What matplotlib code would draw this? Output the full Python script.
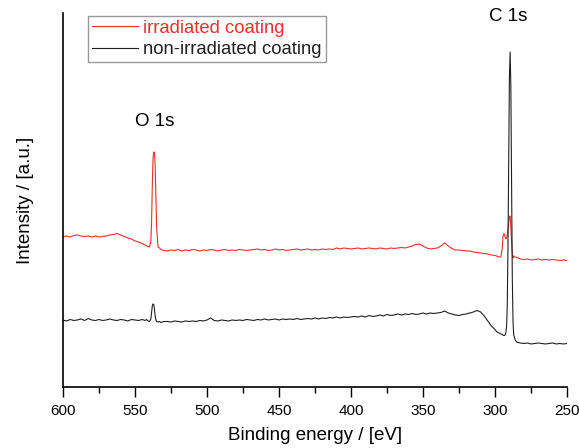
import numpy as np
import matplotlib
matplotlib.use("Agg")
import matplotlib.pyplot as plt

plt.rcParams['font.family'] = ['Liberation Sans', 'DejaVu Sans']

# -----------------------------
# Data, binding energy in eV, intensity in a.u.
# -----------------------------
energy_a = [600, 597.5, 595, 592.5, 590, 587.5, 585, 582.5, 580, 577.5,
            575, 572.5, 570, 567.5, 565, 562.5, 560, 557.5, 555, 552.5,
            550, 547.5, 545]
energy_b = [544, 543, 542, 541, 540, 539, 538.5, 538, 537.5, 537,
            536.5, 536, 535.5, 535, 534, 533, 532, 531, 530]
energy_c = [527.5, 525, 522.5, 520, 517.5, 515, 512.5, 510, 507.5, 505,
            502.5, 500, 497.5, 495, 492.5, 490, 487.5, 485, 482.5, 480,
            477.5, 475, 472.5, 470, 467.5, 465, 462.5, 460, 457.5, 455,
            452.5, 450, 447.5, 445, 442.5, 440, 437.5, 435, 432.5, 430,
            427.5, 425, 422.5, 420, 417.5, 415, 412.5, 410, 407.5, 405,
            402.5, 400, 397.5, 395, 392.5, 390, 387.5, 385, 382.5, 380,
            377.5, 375, 372.5, 370, 367.5, 365, 362.5, 360, 357.5, 355,
            352.5, 350, 347.5, 345, 342.5, 340, 337.5, 335, 332.5, 330,
            327.5, 325, 322.5, 320, 317.5, 315, 312.5, 310, 307.5, 305,
            302.5, 300]
energy_d = [299, 298, 297, 296, 295, 294.5, 294, 293.5, 293, 292.5,
            292, 291.5, 291, 290.5, 290, 289.5, 289, 288.5, 288, 287.5,
            287, 286, 285, 284]
energy_e = [282.5, 280, 277.5, 275, 272.5, 270, 267.5, 265, 262.5, 260,
            257.5, 255, 252.5, 250]

irr_a = [150, 151, 150, 151.5, 152, 151, 150.5, 151, 150, 151,
         150, 150.5, 151, 152, 152.5, 153.5, 152, 150.5, 149, 148,
         146, 145, 143.5]
irr_b = [142.5, 142, 141, 140.5, 140, 145, 165, 200, 228, 235,
         234, 222, 190, 160, 140, 139, 137.5, 137, 136.5]
irr_c = [136, 137, 136.5, 137.5, 136, 137, 136.5, 137.5, 137, 136,
         137, 136.5, 137.5, 137, 136, 137, 137.5, 136.5, 137, 136.5,
         137.5, 137, 136.5, 137, 137.5, 138, 137, 137.5, 136.5, 137,
         138, 137, 137.5, 136.5, 137, 137.5, 138, 137, 137.5, 138,
         137, 137.5, 137, 138, 137.5, 138, 137.5, 139, 138, 139,
         138.5, 138, 138.5, 139, 138, 138.5, 139, 138.5, 138, 139,
         138.5, 138, 139, 138.5, 139, 139.5, 139, 140, 141, 142.5,
         143, 141, 139, 138, 138.5, 139, 141, 144, 141, 138.5,
         137, 137, 136.5, 136, 136, 135, 134.5, 134, 133.5, 133,
         132, 131.5]
irr_d = [131, 130.5, 130, 130, 138, 150, 153, 153, 150, 148,
         149, 152, 158, 165, 170, 171, 160, 145, 133, 129,
         131, 130, 129.5, 129]
irr_e = [128, 127.5, 128, 127, 127.5, 128, 127, 127.5, 127, 127.5,
         127, 126.5, 127, 126.5]

non_a = [67, 66, 67.5, 66.5, 67, 68, 66.5, 68.5, 67, 66.5,
         67.5, 66.5, 67, 68, 67, 66.5, 67.5, 67, 66, 67.5,
         67, 66.5, 67.5]
non_b = [67, 66.5, 67.5, 66, 65.5, 68, 74, 81, 83, 82.5,
         78, 71, 67, 65.5, 65, 65.5, 64.5, 65, 65.5]
non_c = [65.5, 65, 66, 65.5, 65, 66, 65.5, 66, 65.5, 66.5,
         66, 67, 69, 66.5, 66, 67, 66.5, 66, 67, 66.5,
         67, 66.5, 67.5, 67, 66.5, 67.5, 67, 68, 67, 67.5,
         68, 67, 68, 67.5, 68, 67.5, 68.5, 67.5, 68, 68.5,
         68, 69, 68, 69, 68.5, 69.5, 69, 70, 69, 70,
         69.5, 70, 70.5, 70, 71, 70, 71.5, 70.5, 71, 72,
         71, 72.5, 71.5, 72, 73, 72, 73, 72.5, 73.5, 72.5,
         73, 74, 73, 74, 73.5, 74, 74.5, 76, 74, 73,
         72, 71.5, 72.5, 73, 74, 75, 76.5, 75, 71, 66,
         61, 57.5]
non_d = [55.5, 54.5, 54, 53, 52.5, 52, 51.5, 51.5, 52, 54,
         60, 80, 140, 230, 310, 335, 300, 200, 110, 65,
         52, 47, 45, 44.5]
non_e = [44, 43.5, 44, 43, 43.5, 44, 43.5, 43, 43.5, 44,
         43, 43.5, 43, 43.5]

energy = np.array(energy_a + energy_b + energy_c + energy_d + energy_e)
irradiated = np.array(irr_a + irr_b + irr_c + irr_d + irr_e)
non_irradiated = np.array(non_a + non_b + non_c + non_d + non_e)

RED = '#e8302c'
DARK = '#202020'

# -----------------------------
# Plot
# -----------------------------
fig = plt.figure(figsize=(5.79, 4.48), dpi=100)
ax = fig.add_axes([0.1088, 0.1362, 0.8705, 0.8348])

ax.plot(energy, irradiated, color=RED, lw=0.8, label='irradiated coating')
ax.plot(energy, non_irradiated, color=DARK, lw=0.8, label='non-irradiated coating')

ax.set_xlim(600, 250)
ax.set_ylim(0, 374)
ax.set_xticks(np.arange(600, 249, -50))
ax.set_xticks(np.arange(575, 250, -50), minor=True)
ax.set_yticks([])
ax.tick_params(axis='x', which='major', direction='out', length=7, width=1, labelsize=11, pad=5)
ax.tick_params(axis='x', which='minor', direction='out', length=4, width=1)

for s in ['top', 'right']:
    ax.spines[s].set_visible(False)
for s in ['left', 'bottom']:
    ax.spines[s].set_linewidth(1.2)

ax.set_xlabel('Binding energy / [eV]', fontsize=13.5, labelpad=7)
ax.set_ylabel('Intensity / [a.u.]', fontsize=13.5, labelpad=21)

ax.text(536, 265, 'O 1s', fontsize=13.5, ha='center', va='center')
ax.text(290.6, 370, 'C 1s', fontsize=13.5, ha='center', va='center')

leg = ax.legend(loc='upper left', bbox_to_anchor=(88 / 579, 1 - 16 / 448),
                bbox_transform=fig.transFigure, fontsize=13.3, frameon=True,
                fancybox=False, edgecolor='#808080', handlelength=2.5,
                handletextpad=0.3, borderpad=0.2, labelspacing=0.25,
                borderaxespad=0)
leg.get_frame().set_linewidth(1.0)
for txt, c in zip(leg.get_texts(), [RED, DARK]):
    txt.set_color(c)

fig.savefig('out.png', dpi=100)
